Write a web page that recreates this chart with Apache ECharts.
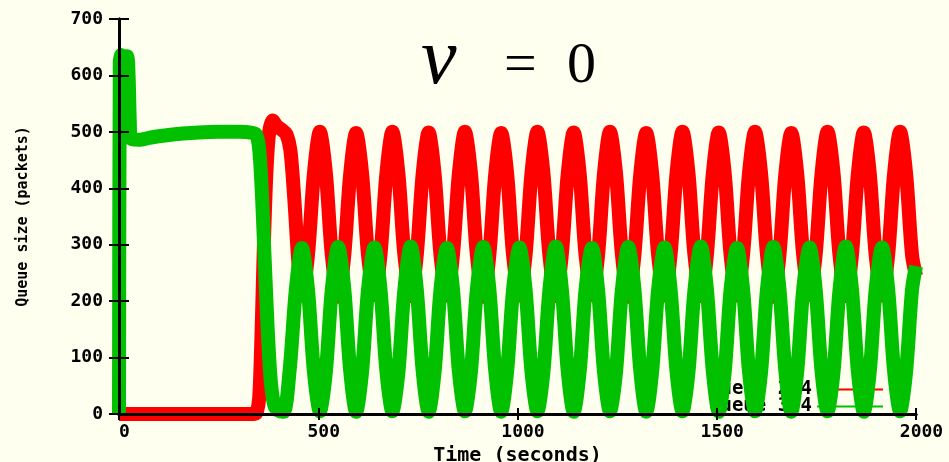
<!DOCTYPE html>
<html>
<head>
<meta charset="utf-8">
<title>Queue size</title>
<script src="https://cdn.jsdelivr.net/npm/echarts@6/dist/echarts.min.js"></script>
<style>
  html, body { margin: 0; padding: 0; background: #fffff0; }
  #chart { width: 949px; height: 462px; }
</style>
</head>
<body>
<div id="chart"></div>
<script>
// Queue 2-4 / Queue 3-4, lecture du graphe (temps en secondes, taille en paquets)
const seriesNames = ["Queue 2-4", "Queue 3-4"];
const xTicks = [0, 500, 1000, 1500, 2000];
const yTicks = [0, 100, 200, 300, 400, 500, 600, 700];

// debut de la simulation (avant les oscillations)
const redStartTime = [0, 340, 346, 352, 358, 364, 370, 377, 386, 396, 408, 420, 430, 440, 450];
const redStartVal = [0, 0, 4, 30, 150, 310, 430, 500, 520, 510, 504, 496, 468, 380, 270];

const greenStartTime = [0, 2, 5, 12, 20, 24, 27, 30, 50, 80, 120, 160, 200, 250, 300, 335, 345, 352, 358, 364, 370, 376, 382, 390, 400, 413, 428, 444];
const greenStartVal = [0, 620, 636, 632, 634, 600, 520, 488, 486, 490, 494, 497, 499, 500, 500, 498, 494, 468, 400, 300, 200, 110, 50, 15, 6, 4, 76, 222];

// oscillations (memes instants pour les deux files)
const cycleTime = [
  459, 474, 489, 504, 519, 534,
  550, 565, 580, 595, 610, 625,
  641, 656, 671, 686, 701, 716,
  732, 747, 762, 777, 792, 807,
  823, 838, 853, 868, 883, 898,
  914, 929, 944, 959, 974, 989,
  1005, 1020, 1035, 1050, 1065, 1080,
  1096, 1111, 1126, 1141, 1156, 1171,
  1187, 1202, 1217, 1232, 1247, 1262,
  1278, 1293, 1308, 1323, 1338, 1353,
  1369, 1384, 1399, 1414, 1429, 1444,
  1460, 1475, 1490, 1505, 1520, 1535,
  1551, 1566, 1581, 1596, 1611, 1626,
  1642, 1657, 1672, 1687, 1702, 1717,
  1733, 1748, 1763, 1778, 1793, 1808,
  1824, 1839, 1854, 1869, 1884, 1899,
  1915, 1930, 1945, 1960, 1975, 1990,
  2000
];
const redCycle = [
  210, 280, 425, 500, 428, 282,
  208, 279, 424, 498, 426, 281,
  211, 281, 426, 500, 427, 283,
  209, 280, 425, 499, 425, 280,
  210, 282, 427, 500, 428, 282,
  208, 279, 424, 498, 426, 281,
  210, 280, 426, 500, 427, 282,
  209, 281, 425, 499, 426, 280,
  211, 280, 426, 500, 428, 283,
  208, 279, 424, 498, 425, 281,
  210, 281, 426, 500, 427, 282,
  209, 280, 425, 499, 426, 280,
  210, 282, 427, 500, 428, 283,
  208, 279, 424, 498, 425, 281,
  211, 281, 426, 500, 427, 282,
  209, 280, 425, 499, 426, 280,
  210, 281, 426, 500, 427, 282,
  245
];
const greenCycle = [
  294, 222, 76, 5, 74, 220,
  296, 224, 78, 4, 75, 221,
  295, 222, 76, 5, 73, 219,
  297, 223, 77, 4, 75, 222,
  294, 221, 75, 5, 74, 220,
  296, 224, 78, 4, 76, 221,
  295, 222, 76, 5, 74, 219,
  297, 223, 77, 4, 75, 222,
  294, 221, 75, 5, 73, 220,
  296, 224, 78, 4, 76, 221,
  295, 222, 76, 5, 74, 219,
  297, 223, 77, 4, 75, 222,
  294, 221, 75, 5, 73, 220,
  296, 224, 78, 4, 76, 221,
  295, 222, 76, 5, 74, 219,
  297, 223, 77, 4, 75, 222,
  295, 222, 76, 5, 74, 220,
  262
];

function toPairs(times, vals) {
  return times.map((t, i) => [t, vals[i]]);
}

const redData = toPairs(redStartTime.concat(cycleTime), redStartVal.concat(redCycle));
const greenData = toPairs(greenStartTime.concat(cycleTime), greenStartVal.concat(greenCycle));

const mono = '"DejaVu Sans Mono", monospace';
const plain = function (v) { return String(v); };

const chart = echarts.init(document.getElementById("chart"));

const option = {
  backgroundColor: "#fffff0",
  animation: false,
  grid: { left: 119, right: 33, top: 19, bottom: 48, containLabel: false, outerBoundsMode: "none" },
  graphic: [
    { type: "text", x: 421, y: 62, z: 10, style: { text: "ν", font: 'italic 80px "Liberation Serif"', fill: "#000", verticalAlign: "middle" } },
    { type: "text", x: 504, y: 67, z: 10, style: { text: "=", font: '58px "Liberation Serif"', fill: "#000", verticalAlign: "middle" } },
    { type: "text", x: 567, y: 67, z: 10, style: { text: "0", font: '58px "Liberation Serif"', fill: "#000", verticalAlign: "middle" } }
  ],
  legend: {
    z: 1,
    orient: "vertical",
    right: 61,
    top: 375,
    align: "right",
    icon: "rect",
    itemWidth: 66,
    itemHeight: 2,
    itemGap: -2,
    selectedMode: false,
    textStyle: { fontFamily: mono, fontWeight: "bold", fontSize: 19, lineHeight: 16, color: "#000" },
    data: seriesNames
  },
  xAxis: [
    {
      type: "value",
      min: xTicks[0],
      max: xTicks[xTicks.length - 1],
      interval: 500,
      z: 5,
      name: "Time (seconds)",
      nameLocation: "middle",
      nameGap: 32,
      nameTextStyle: { fontFamily: mono, fontWeight: "bold", fontSize: 20, color: "#000" },
      axisLine: { lineStyle: { color: "#000", width: 3 } },
      axisTick: { inside: true, length: 6, lineStyle: { color: "#000", width: 2 } },
      axisLabel: { margin: 9, padding: [0, 0, 0, 11], formatter: plain, fontFamily: mono, fontWeight: "bold", fontSize: 18, color: "#000" },
      splitLine: { show: false }
    },
    {
      type: "value",
      position: "top",
      min: xTicks[0],
      max: xTicks[xTicks.length - 1],
      interval: 500,
      z: 5,
      axisLine: { lineStyle: { color: "#000", width: 3 } },
      axisTick: { inside: true, length: 6, lineStyle: { color: "#000", width: 2 } },
      axisLabel: { show: false },
      splitLine: { show: false }
    }
  ],
  yAxis: [
    {
      type: "value",
      min: yTicks[0],
      max: yTicks[yTicks.length - 1],
      interval: 100,
      z: 5,
      name: "Queue size (packets)",
      nameLocation: "middle",
      nameGap: 88,
      nameTextStyle: { fontFamily: mono, fontWeight: "bold", fontSize: 15, color: "#000" },
      axisLine: { show: true, lineStyle: { color: "#000", width: 3 } },
      axisTick: { show: true, inside: true, length: 10, lineStyle: { color: "#000", width: 2 } },
      axisLabel: { margin: 16, formatter: plain, fontFamily: mono, fontWeight: "bold", fontSize: 18, color: "#000" },
      splitLine: { show: false }
    },
    {
      type: "value",
      position: "right",
      min: yTicks[0],
      max: yTicks[yTicks.length - 1],
      interval: 100,
      z: 5,
      axisLine: { show: true, lineStyle: { color: "#000", width: 3 } },
      axisTick: { show: true, inside: true, length: 10, lineStyle: { color: "#000", width: 2 } },
      axisLabel: { show: false },
      splitLine: { show: false }
    }
  ],
  series: [
    {
      name: seriesNames[0],
      type: "line",
      z: 3,
      data: redData,
      showSymbol: false,
      smooth: 0.3,
      clip: false,
      color: "#ff0000",
      lineStyle: { color: "#ff0000", width: 14 }
    },
    {
      name: seriesNames[1],
      type: "line",
      z: 3,
      data: greenData,
      showSymbol: false,
      smooth: 0.3,
      clip: false,
      color: "#00c000",
      lineStyle: { color: "#00c000", width: 14 }
    }
  ]
};

chart.setOption(option);
</script>
</body>
</html>
